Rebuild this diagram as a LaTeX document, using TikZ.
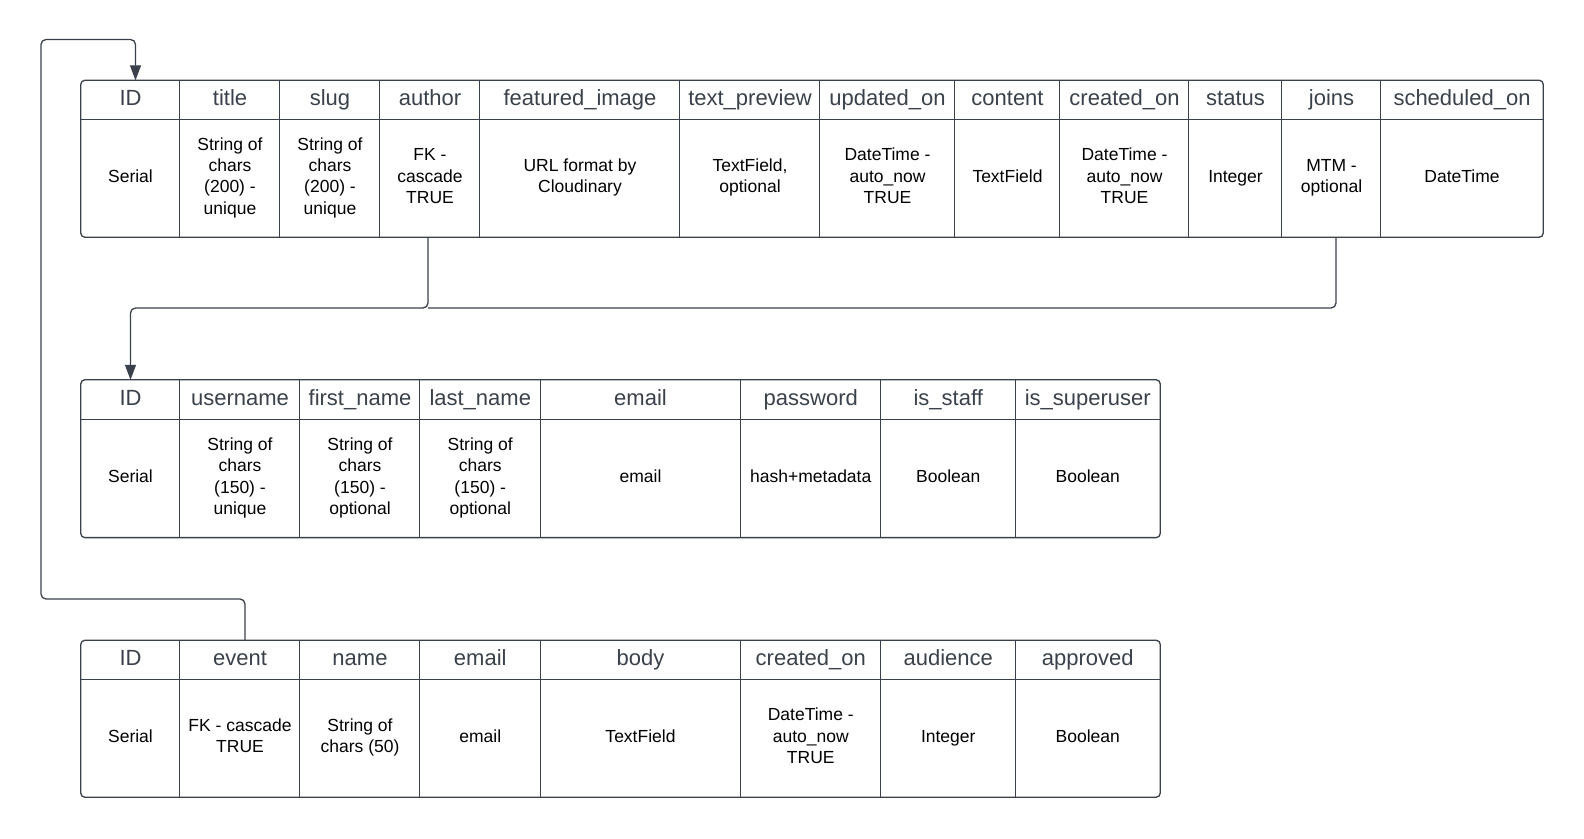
\documentclass[tikz,border=0pt]{standalone}
\usepackage{fontspec}
\setmainfont{Liberation Sans}
\usetikzlibrary{arrows.meta}
\definecolor{linecol}{HTML}{3A414A}
\definecolor{hdcol}{HTML}{3A414A}
\tikzset{
  hd/.style={font=\fontsize{22}{26}\selectfont, text=hdcol, inner sep=0pt, text height=16pt, text depth=4.2pt},
  bd/.style={font=\fontsize{17.5}{21.4}\selectfont, text=black, align=center, inner sep=0pt},
  gridline/.style={draw=linecol, line width=1.3pt},
  conn/.style={draw=linecol, line width=1.3pt, rounded corners=5pt},
  arr/.style={-{Triangle[length=15pt,width=11pt]}},
}
\newcommand\bodystrut{\rule[-6.7pt]{0pt}{21.4pt}}
\newcommand\erdtable[5]{%
  \foreach \nm/\xa/\xb/\hd/\bd in {#5} {
    \node[hd, minimum width={(\xb-\xa)*1pt}, minimum height={(#3-#2)*1pt}]
      (#1\nm H) at ({(\xa+\xb)/2},{(#2+#3)/2}) {\hd};
    \node[bd, minimum width={(\xb-\xa)*1pt}, minimum height={(#4-#3)*1pt}]
      (#1\nm B) at ({(\xa+\xb)/2},{(#3+#4)/2}) {\bodystrut\bd\bodystrut};
  }
}
\begin{document}
\begin{tikzpicture}[x=1pt,y=-1pt]
\useasboundingbox (0,0) rectangle (1584,838);

% ---------- table 1 (posts) ----------
\erdtable{t}{80.5}{119.2}{237}{
  id/81/180/ID/{Serial},
  title/180/280/title/{String of\\chars\\(200) -\\unique},
  slug/280/380/slug/{String of\\chars\\(200) -\\unique},
  author/380/480/author/{FK -\\cascade\\TRUE},
  fimg/480/680/featured\_image/{URL format by\\Cloudinary},
  tprev/680/820/text\_preview/{TextField,\\optional},
  upd/820/955/updated\_on/{DateTime -\\auto\_now\\TRUE},
  content/955/1060/content/{TextField},
  created/1060/1189/created\_on/{DateTime -\\auto\_now\\TRUE},
  status/1189/1282/status/{Integer},
  joins/1282/1381/joins/{MTM -\\optional},
  sched/1381/1543/scheduled\_on/{DateTime}}
\draw[gridline, rounded corners=4pt] (tidH.north west) rectangle (tschedB.south east);
\draw[gridline] (tidH.south west) -- (tschedH.south east);
\foreach \c in {title,slug,author,fimg,tprev,upd,content,created,status,joins,sched}
  \draw[gridline] (t\c H.north west) -- (t\c B.south west);

% ---------- table 2 (users) ----------
\erdtable{u}{380}{419.2}{537.4}{
  id/81/180/ID/{Serial},
  username/180/300/username/{String of\\chars\\(150) -\\unique},
  first/300/420/first\_name/{String of\\chars\\(150) -\\optional},
  last/420/540.5/last\_name/{String of\\chars\\(150) -\\optional},
  email/540.5/740.5/email/{email},
  pwd/740.5/881/password/{hash+metadata},
  staff/881/1015.5/is\_staff/{Boolean},
  super/1015.5/1160/is\_superuser/{Boolean}}
\draw[gridline, rounded corners=4pt] (uidH.north west) rectangle (usuperB.south east);
\draw[gridline] (uidH.south west) -- (usuperH.south east);
\foreach \c in {username,first,last,email,pwd,staff,super}
  \draw[gridline] (u\c H.north west) -- (u\c B.south west);

% ---------- table 3 (comments) ----------
\erdtable{c}{640.5}{679}{797}{
  id/81/180/ID/{Serial},
  event/180/300/event/{FK - cascade\\TRUE},
  name/300/420/name/{String of\\chars (50)},
  email/420/540.5/email/{email},
  body/540.5/740.5/body/{TextField},
  created/740.5/881/created\_on/{DateTime -\\auto\_now\\TRUE},
  aud/881/1015.5/audience/{Integer},
  appr/1015.5/1160/approved/{Boolean}}
\draw[gridline, rounded corners=4pt] (cidH.north west) rectangle (capprB.south east);
\draw[gridline] (cidH.south west) -- (capprH.south east);
\foreach \c in {event,name,email,body,created,aud,appr}
  \draw[gridline] (c\c H.north west) -- (c\c B.south west);

% ---------- connectors ----------
\coordinate (jA) at (428,308);
\coordinate (cA) at (41,599);
\coordinate (cB) at (41,39.5);
\draw[conn, arr] ([xshift=-2pt]tauthorB.south) -- (jA) -| (uidH.north);
\draw[conn] ([xshift=4.5pt]tjoinsB.south) |- (jA);
\draw[conn, arr] ([xshift=5pt]ceventH.north) |- (cA) -- (cB) -| ([xshift=5pt]tidH.north);
\end{tikzpicture}
\end{document}
